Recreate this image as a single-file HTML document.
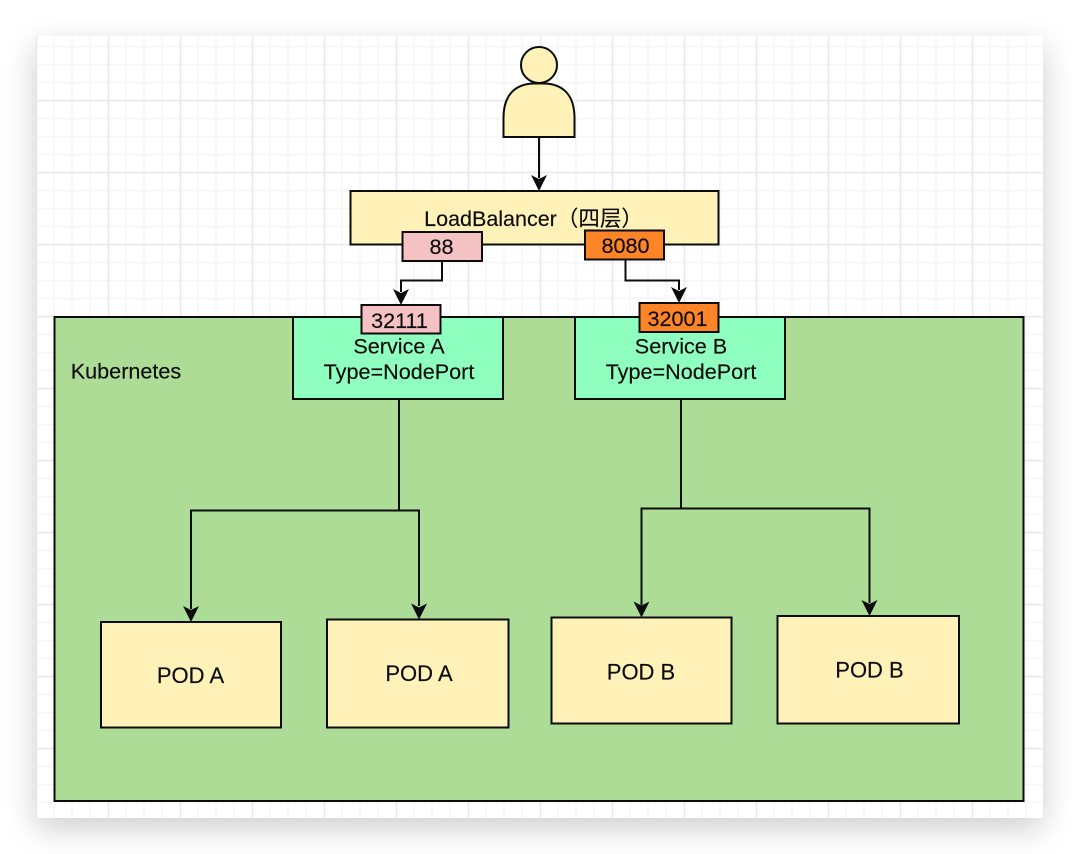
<!DOCTYPE html>
<html>
<head>
<meta charset="utf-8">
<style>
html,body{margin:0;padding:0;background:#fff;width:1080px;height:854px;overflow:hidden}
#c{position:absolute;left:36px;top:36px;width:1007px;height:782px;background:#fff;box-shadow:0 10px 30px rgba(0,0,0,.2)}
svg{position:absolute;left:0;top:0}
text{font-family:"Liberation Sans","Noto Sans CJK SC",sans-serif;fill:#0c0c0c;text-anchor:middle;stroke:#0c0c0c;stroke-width:.15px}
</style>
</head>
<body>
<div id="c"></div>
<svg width="1080" height="854" viewBox="0 0 1080 854">
<defs>
<pattern id="g" x="36" y="28.5" width="72" height="72" patternUnits="userSpaceOnUse">
<path d="M18 0V72M36 0V72M54 0V72M0 18H72M0 36H72M0 54H72" stroke="#f6f6f6" stroke-width="1.6" fill="none"/>
<path d="M0.5 0V72M72.500 0V72M0 0H72M0 72H72" stroke="#e8e8e8" stroke-width="1.6" fill="none"/>
</pattern>
<clipPath id="cc"><rect x="36" y="36" width="1007" height="782"/></clipPath>
</defs>
<rect x="36" y="36" width="1007" height="782" fill="url(#g)" clip-path="url(#cc)"/>

<!-- Kubernetes -->
<rect x="54.500" y="317" width="969" height="484" fill="#acdc96" stroke="#0c0c0c" stroke-width="2"/>
<text x="126" y="378.500" font-size="21.600">Kubernetes</text>

<!-- User -->
<g fill="#fff2b8" stroke="#0c0c0c" stroke-width="2">
<circle cx="539" cy="65" r="18"/>
<path d="M503.500 137V118C503.500 95 515 83.500 535 83.500H543C563 83.500 574.500 95 574.500 118V137Z"/>
</g>

<!-- Connectors -->
<g fill="none" stroke="#0c0c0c" stroke-width="2">
<path d="M539 137V178"/>
<path d="M442 261V280.500H401V292"/>
<path d="M625.500 259.500V280.500H679V290"/>
<path d="M399 399V510.500M191 609V510.500H419V606"/>
<path d="M681 399V508.500M641.500 605V508.500H869.500V603"/>
</g>
<g fill="#0c0c0c">
<path d="M539 191L531 175L539 179L547 175Z"/>
<path d="M401 305L393 289L401 293L409 289Z"/>
<path d="M679 303L671 287L679 291L687 287Z"/>
<path d="M191 622L183 606L191 610L199 606Z"/>
<path d="M419 619.500L411 603.500L419 607.500L427 603.500Z"/>
<path d="M641.500 617.500L633.500 601.500L641.500 605.500L649.500 601.500Z"/>
<path d="M869.500 616L861.500 600L869.500 604L877.500 600Z"/>
</g>

<!-- LoadBalancer -->
<rect x="350.500" y="191" width="368" height="53.500" fill="#fff2b8" stroke="#0c0c0c" stroke-width="2"/>
<text x="533.500" y="226" font-size="21.500">LoadBalancer（四层）</text>

<!-- Services -->
<rect x="293" y="317" width="210" height="82" fill="#8fffbf" stroke="#0c0c0c" stroke-width="2"/>
<rect x="575" y="317" width="210" height="82" fill="#8fffbf" stroke="#0c0c0c" stroke-width="2"/>
<text x="399" y="353.500" font-size="21.600">Service A</text>
<text x="399" y="379" font-size="21.600">Type=NodePort</text>
<text x="681" y="353.500" font-size="21.600">Service B</text>
<text x="681" y="379" font-size="21.600">Type=NodePort</text>

<!-- Ports -->
<rect x="402.500" y="232" width="79.500" height="29" fill="#f4c2c2" stroke="#0c0c0c" stroke-width="2"/>
<text x="441.500" y="254" font-size="21.600">88</text>
<rect x="585" y="230.500" width="79" height="29" fill="#fe8527" stroke="#0c0c0c" stroke-width="2"/>
<text x="625.500" y="253" font-size="21.600">8080</text>
<rect x="361.500" y="305" width="79" height="28.500" fill="#f4c2c2" stroke="#0c0c0c" stroke-width="2"/>
<text x="399.500" y="328" font-size="21.600">32111</text>
<rect x="639.500" y="303" width="79" height="29" fill="#fe8527" stroke="#0c0c0c" stroke-width="2"/>
<text x="677.500" y="326" font-size="21.600">32001</text>

<!-- PODs -->
<g fill="#fff2b8" stroke="#0c0c0c" stroke-width="2">
<rect x="101" y="622" width="180" height="105.500"/>
<rect x="327" y="619.500" width="181.500" height="108"/>
<rect x="551.500" y="617.500" width="180" height="106"/>
<rect x="777.500" y="616" width="181.500" height="107.500"/>
</g>
<g font-size="22">
<text x="190.500" y="683">POD A</text>
<text x="419" y="681">POD A</text>
<text x="641" y="679.500">POD B</text>
<text x="869.500" y="677.500">POD B</text>
</g>
</svg>
</body>
</html>
